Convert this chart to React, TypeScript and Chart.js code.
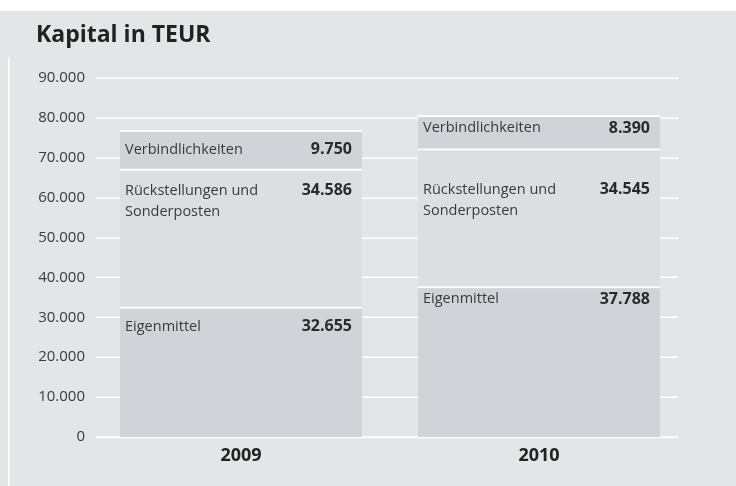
import React, { useEffect, useRef } from "react";
import { Chart, registerables } from "chart.js";

Chart.register(...registerables);

const years = ["2009", "2010"];
const segmentNames = ["Eigenmittel", "Rückstellungen und\nSonderposten", "Verbindlichkeiten"];
const eigenmittel = [32655, 37788];
const rueckstellungen = [34586, 34545];
const verbindlichkeiten = [9750, 8390];
const yTicks = [0, 10000, 20000, 30000, 40000, 50000, 60000, 70000, 80000, 90000];
const title = "Kapital in TEUR";

// label vertical offset from segment top (px), per segment per year
const labelOffsets = [
  [20, 13],
  [22, 41],
  [20, 13],
];

const FONT = "'Open Sans', 'Noto Sans', sans-serif";
const BG = "#e3e6e7";
const DARK_SEG = "#d0d3d7";
const LIGHT_SEG = "#dcdfe2";
const TEXT = "#3a3a3a";

const fmt = (v: number) =>
  Math.round(v)
    .toString()
    .replace(/\B(?=(\d{3})+(?!\d))/g, ".");

export default function App() {
  const ref = useRef<HTMLCanvasElement | null>(null);

  useEffect(() => {
    document.body.style.margin = "0";
    const canvas = ref.current;
    if (!canvas) return;

    const bgPlugin = {
      id: "bgPlugin",
      beforeDraw(chart: any) {
        const { ctx, width, height } = chart;
        ctx.save();
        ctx.fillStyle = "#ffffff";
        ctx.fillRect(0, 0, width, height);
        ctx.fillStyle = BG;
        ctx.fillRect(0, 11, width, height - 11);
        ctx.fillStyle = "#ffffff";
        ctx.fillRect(8, 57, 1.5, height - 57);
        ctx.fillStyle = "#222222";
        ctx.font = `bold 23px ${FONT}`;
        ctx.textBaseline = "middle";
        ctx.textAlign = "left";
        ctx.fillText(title, 36, 35);
        ctx.restore();
      },
      beforeDatasetsDraw(chart: any) {
        const { ctx } = chart;
        const y = chart.scales.y;
        ctx.save();
        ctx.strokeStyle = "#ffffff";
        ctx.lineWidth = 1.5;
        yTicks.forEach((t) => {
          const py = Math.round(y.getPixelForValue(t)) + 0.25;
          ctx.lineWidth = t === 0 ? 2 : 1.5;
          ctx.beginPath();
          ctx.moveTo(96, py);
          ctx.lineTo(678, py);
          ctx.stroke();
        });
        ctx.restore();
      },
      afterDatasetsDraw(chart: any) {
        const { ctx } = chart;
        ctx.save();
        chart.data.datasets.forEach((ds: any, di: number) => {
          const meta = chart.getDatasetMeta(di);
          meta.data.forEach((el: any, j: number) => {
            const left = el.x - el.width / 2;
            const right = el.x + el.width / 2;
            const top = Math.min(el.y, el.base);
            const cy = top + labelOffsets[di][j];
            ctx.fillStyle = TEXT;
            ctx.textBaseline = "middle";
            ctx.textAlign = "left";
            ctx.font = `14.5px ${FONT}`;
            const lines = String(ds.label).split("\n");
            lines.forEach((ln: string, k: number) => {
              ctx.fillText(ln, left + 5, cy + k * 21);
            });
            ctx.textAlign = "right";
            ctx.font = `bold 16px ${FONT}`;
            ctx.fillStyle = "#2a2a2a";
            ctx.fillText(fmt(ds.data[j]), right - 10, cy);
          });
        });
        ctx.restore();
      },
    };

    const chart = new Chart(canvas, {
      type: "bar",
      data: {
        labels: years,
        datasets: [
          { label: segmentNames[0], data: eigenmittel, backgroundColor: DARK_SEG },
          { label: segmentNames[1], data: rueckstellungen, backgroundColor: LIGHT_SEG },
          { label: segmentNames[2], data: verbindlichkeiten, backgroundColor: DARK_SEG },
        ].map((d) => ({
          ...d,
          borderColor: "#ffffff",
          borderWidth: { top: 2, bottom: 0, left: 0, right: 0 },
          borderSkipped: false,
          categoryPercentage: 1,
          barPercentage: 0.812,
        })) as any,
      },
      options: {
        responsive: false,
        animation: false,
        events: [],
        layout: { padding: { top: 78, left: 0, right: 48, bottom: 0 } },
        plugins: {
          legend: { display: false },
          tooltip: { enabled: false },
          title: { display: false },
        },
        scales: {
          x: {
            stacked: true,
            grid: { display: false, drawTicks: false },
            border: { display: false },
            ticks: {
              color: "#222222",
              font: { family: FONT, size: 18, weight: "bold" },
              padding: 8,
            },
            afterFit: (s: any) => {
              s.height = 49;
            },
          },
          y: {
            stacked: true,
            min: 0,
            max: 90000,
            grid: { display: false, drawTicks: false },
            border: { display: false },
            afterBuildTicks: (s: any) => {
              s.ticks = yTicks.map((v) => ({ value: v }));
            },
            ticks: {
              color: TEXT,
              font: { family: FONT, size: 15 },
              padding: 7,
              callback: (v: any) => fmt(Number(v)),
            },
            afterFit: (s: any) => {
              s.width = 92;
            },
          },
        },
      } as any,
      plugins: [bgPlugin],
    });

    return () => chart.destroy();
  }, []);

  return (
    <div style={{ position: "absolute", left: 0, top: 0, width: 736, height: 486 }}>
      <canvas ref={ref} width={736} height={486} style={{ display: "block" }} />
    </div>
  );
}
